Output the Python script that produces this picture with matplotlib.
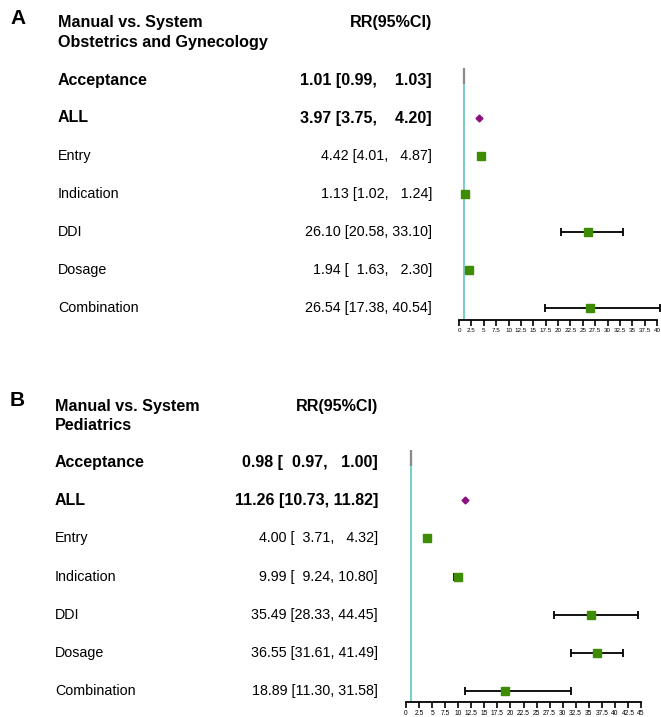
import matplotlib
matplotlib.use("Agg")
import matplotlib.pyplot as plt
import numpy as np

plt.rcParams['font.family'] = ['Liberation Sans', 'DejaVu Sans']

labels = ["Acceptance", "ALL", "Entry", "Indication", "DDI", "Dosage", "Combination"]

rr_A = [1.01, 3.97, 4.42, 1.13, 26.10, 1.94, 26.54]
lo_A = [0.99, 3.75, 4.01, 1.02, 20.58, 1.63, 17.38]
hi_A = [1.03, 4.20, 4.87, 1.24, 33.10, 2.30, 40.54]
ci_text_A = ["1.01 [0.99,    1.03]", "3.97 [3.75,    4.20]", "4.42 [4.01,   4.87]",
             "1.13 [1.02,   1.24]", "26.10 [20.58, 33.10]", "1.94 [  1.63,   2.30]",
             "26.54 [17.38, 40.54]"]

rr_B = [0.98, 11.26, 4.00, 9.99, 35.49, 36.55, 18.89]
lo_B = [0.97, 10.73, 3.71, 9.24, 28.33, 31.61, 11.30]
hi_B = [1.00, 11.82, 4.32, 10.80, 44.45, 41.49, 31.58]
ci_text_B = ["0.98 [  0.97,   1.00]", "11.26 [10.73, 11.82]", "4.00 [  3.71,   4.32]",
             "9.99 [  9.24, 10.80]", "35.49 [28.33, 44.45]", "36.55 [31.61, 41.49]",
             "18.89 [11.30, 31.58]"]

W, H = 661, 717
fig = plt.figure(figsize=(W / 100, H / 100), dpi=100)

TEAL = '#7ccfc9'
PURPLE = '#8a1080'
GREEN = '#3d8c04'


def px(x, y):
    return x / W, 1 - y / H


def panel(letter, subtitle, rr, lo, hi, ci_text, ax_left, ax_right, row0, spacing,
          axis_y, top_y, xmax, label_x, value_x, letter_y, head_y, sub_y, tick_fs):
    n = len(rr)
    i_top = (top_y - row0) / spacing
    i_bot = (axis_y - row0) / spacing
    ax = fig.add_axes([ax_left / W, 1 - axis_y / H, (ax_right - ax_left) / W,
                       (axis_y - top_y) / H])
    ax.set_xlim(0, xmax)
    ax.set_ylim(i_bot, i_top)
    for s in ['left', 'right', 'top']:
        ax.spines[s].set_visible(False)
    ax.spines['bottom'].set_linewidth(1.3)
    ax.set_yticks([])
    ticks = np.arange(0, xmax + 0.01, 2.5)
    ax.set_xticks(ticks)
    ax.set_xticklabels([f"{t:g}" for t in ticks], fontsize=tick_fs)
    ax.tick_params(axis='x', direction='out', length=4, width=1.2, pad=1.5)
    ax.axvline(1, color=TEAL, lw=1.5, zorder=1)
    ys = np.arange(n)
    # acceptance
    ax.plot([rr[0]], [ys[0] - 0.1], marker='|', ms=11, mew=1.6, color='#8a8a8a',
            zorder=3, clip_on=False)
    # ALL
    ax.plot([rr[1]], [ys[1]], marker='D', ms=3.5, color=PURPLE, mec=PURPLE, zorder=3)
    for k in range(2, n):
        ax.errorbar([rr[k]], [ys[k]], xerr=[[rr[k] - lo[k]], [hi[k] - rr[k]]],
                    fmt='none', ecolor='black', elinewidth=1.3, capsize=3,
                    capthick=1.3, zorder=2, clip_on=False)
        ax.plot([rr[k]], [ys[k]], marker='s', ms=6, color=GREEN, mec=GREEN,
                zorder=3, clip_on=False)

    fig.text(*px(10, letter_y), letter, fontsize=15, fontweight='bold',
             ha='left', va='center')
    fig.text(*px(label_x, head_y), "Manual vs. System", fontsize=11.6,
             fontweight='bold', ha='left', va='center')
    fig.text(*px(label_x, sub_y), subtitle, fontsize=11.6, fontweight='bold',
             ha='left', va='center')
    fig.text(*px(value_x, head_y), "RR(95%CI)", fontsize=11.6, fontweight='bold',
             ha='right', va='center')
    for k in range(n):
        yy = row0 + spacing * k
        bold = k < 2
        fs = 11.5 if bold else 10.3
        fw = 'bold' if bold else 'normal'
        fig.text(*px(label_x, yy), labels[k], fontsize=fs, fontweight=fw,
                 ha='left', va='center')
        fig.text(*px(value_x, yy), ci_text[k], fontsize=fs, fontweight=fw,
                 ha='right', va='center')


panel("A", "Obstetrics and Gynecology", rr_A, lo_A, hi_A, ci_text_A,
      459, 657, 80, 38, 320, 68, 40, 58, 432, 18, 22, 42, 4.5)
panel("B", "Pediatrics", rr_B, lo_B, hi_B, ci_text_B,
      406, 641, 462, 38.2, 702, 452, 45, 55, 378, 401, 407, 425, 4.8)

fig.savefig("out.png", dpi=100)
